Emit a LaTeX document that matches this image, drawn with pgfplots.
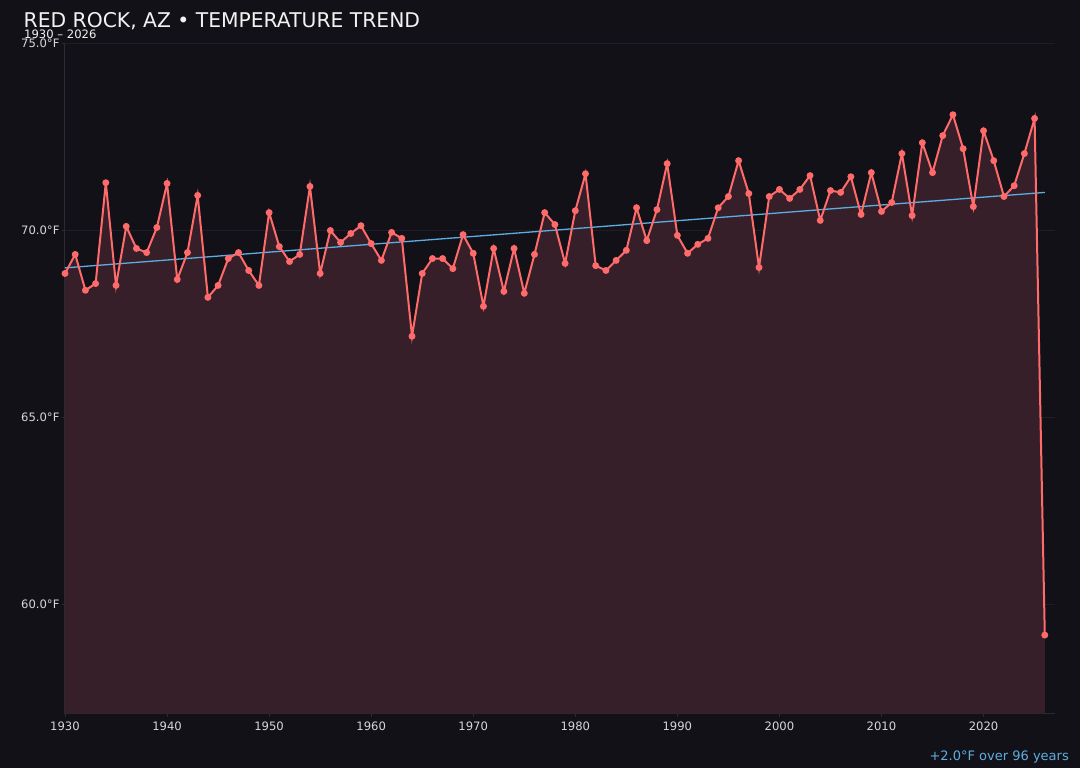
\documentclass[border=0pt]{standalone}
\usepackage{pgfplots}
\pgfplotsset{compat=1.18}
\usepackage{fontspec}
\setmainfont{DejaVu Sans}
\definecolor{bgc}{HTML}{121117}
\definecolor{fillc}{HTML}{361F28}
\definecolor{linec}{HTML}{FF6B6B}
\definecolor{trendc}{HTML}{5DADE2}
\definecolor{gridc}{HTML}{1F1D26}
\definecolor{spinec}{HTML}{2C2B35}
\definecolor{tickc}{HTML}{D6D6D6}
\definecolor{titlec}{HTML}{F2F2F2}
\pgfplotstableread{
year temp
1930 68.85
1931 69.36
1932 68.40
1933 68.58
1934 71.28
1935 68.53
1936 70.11
1937 69.52
1938 69.41
1939 70.08
1940 71.26
1941 68.69
1942 69.41
1943 70.94
1944 68.21
1945 68.53
1946 69.25
1947 69.41
1948 68.93
1949 68.53
1950 70.48
1951 69.57
1952 69.17
1953 69.36
1954 71.18
1955 68.85
1956 70.00
1957 69.68
1958 69.92
1959 70.13
1960 69.65
1961 69.20
1962 69.95
1963 69.79
1964 67.17
1965 68.85
1966 69.25
1967 69.25
1968 68.98
1969 69.89
1970 69.39
1971 67.97
1972 69.52
1973 68.37
1974 69.52
1975 68.32
1976 69.36
1977 70.48
1978 70.16
1979 69.12
1980 70.53
1981 71.52
1982 69.06
1983 68.93
1984 69.20
1985 69.47
1986 70.61
1987 69.73
1988 70.56
1989 71.79
1990 69.87
1991 69.39
1992 69.63
1993 69.79
1994 70.61
1995 70.91
1996 71.87
1997 70.99
1998 69.01
1999 70.91
2000 71.10
2001 70.86
2002 71.10
2003 71.47
2004 70.27
2005 71.07
2006 71.02
2007 71.44
2008 70.43
2009 71.55
2010 70.51
2011 70.75
2012 72.06
2013 70.40
2014 72.35
2015 71.55
2016 72.54
2017 73.10
2018 72.19
2019 70.64
2020 72.67
2021 71.87
2022 70.91
2023 71.20
2024 72.06
2025 73.00
2026 59.17
}\datatable
\begin{document}
\begin{tikzpicture}
\fill[bgc] (0pt,0pt) rectangle (1080pt,-768pt);
\begin{axis}[
  at={(65pt,-713.5pt)}, anchor=south west,
  scale only axis, width=990pt, height=670.5pt,
  xmin=1930, xmax=2027, ymin=57.07, ymax=75.02,
  axis line style={spinec, line width=1pt},
  axis x line*=bottom, axis y line*=left,
  xtick={1930,1940,...,2020},
  ytick={60,65,70,75},
  grid=major,
  xmajorgrids=false,
  major grid style={gridc, line width=0.8pt},
  tick align=outside,
  major tick length=3pt,
  tick style={spinec, line width=0.8pt},
  /pgf/number format/assume math mode=true,
  /pgf/number format/1000 sep={},
  xticklabel style={font=\fontsize{11.6}{13}\selectfont, text=tickc, yshift=-2pt},
  yticklabel style={font=\fontsize{11.6}{13}\selectfont, text=tickc, xshift=1pt},
  yticklabel={\pgfmathprintnumber[fixed,fixed zerofill,precision=1]{\tick}°F},
  clip=true,
]
\addplot[fill=fillc, draw=none, forget plot] table[x=year,y=temp]{\datatable} \closedcycle;
\addplot[trendc, line width=1.3pt] coordinates {(1930,69.00) (2026,71.02)};
\addplot[linec, line width=2pt, mark=*, mark size=2.4pt, mark options={fill=linec, draw=linec}] table[x=year,y=temp]{\datatable};
\end{axis}
\node[anchor=base west, inner sep=0pt, text=titlec, font=\fontsize{20.3}{23}\selectfont] at (23.5pt,-28pt) {RED ROCK, AZ • TEMPERATURE TREND};
\node[anchor=base west, inner sep=0pt, text=titlec, font=\fontsize{11.6}{13}\selectfont] at (24pt,-39pt) {1930 – 2026};
\node[anchor=base east, inner sep=0pt, text=trendc, font=\fontsize{13}{15}\selectfont] at (1069pt,-760pt) {+2.0°F over 96 years};
\end{tikzpicture}
\end{document}
